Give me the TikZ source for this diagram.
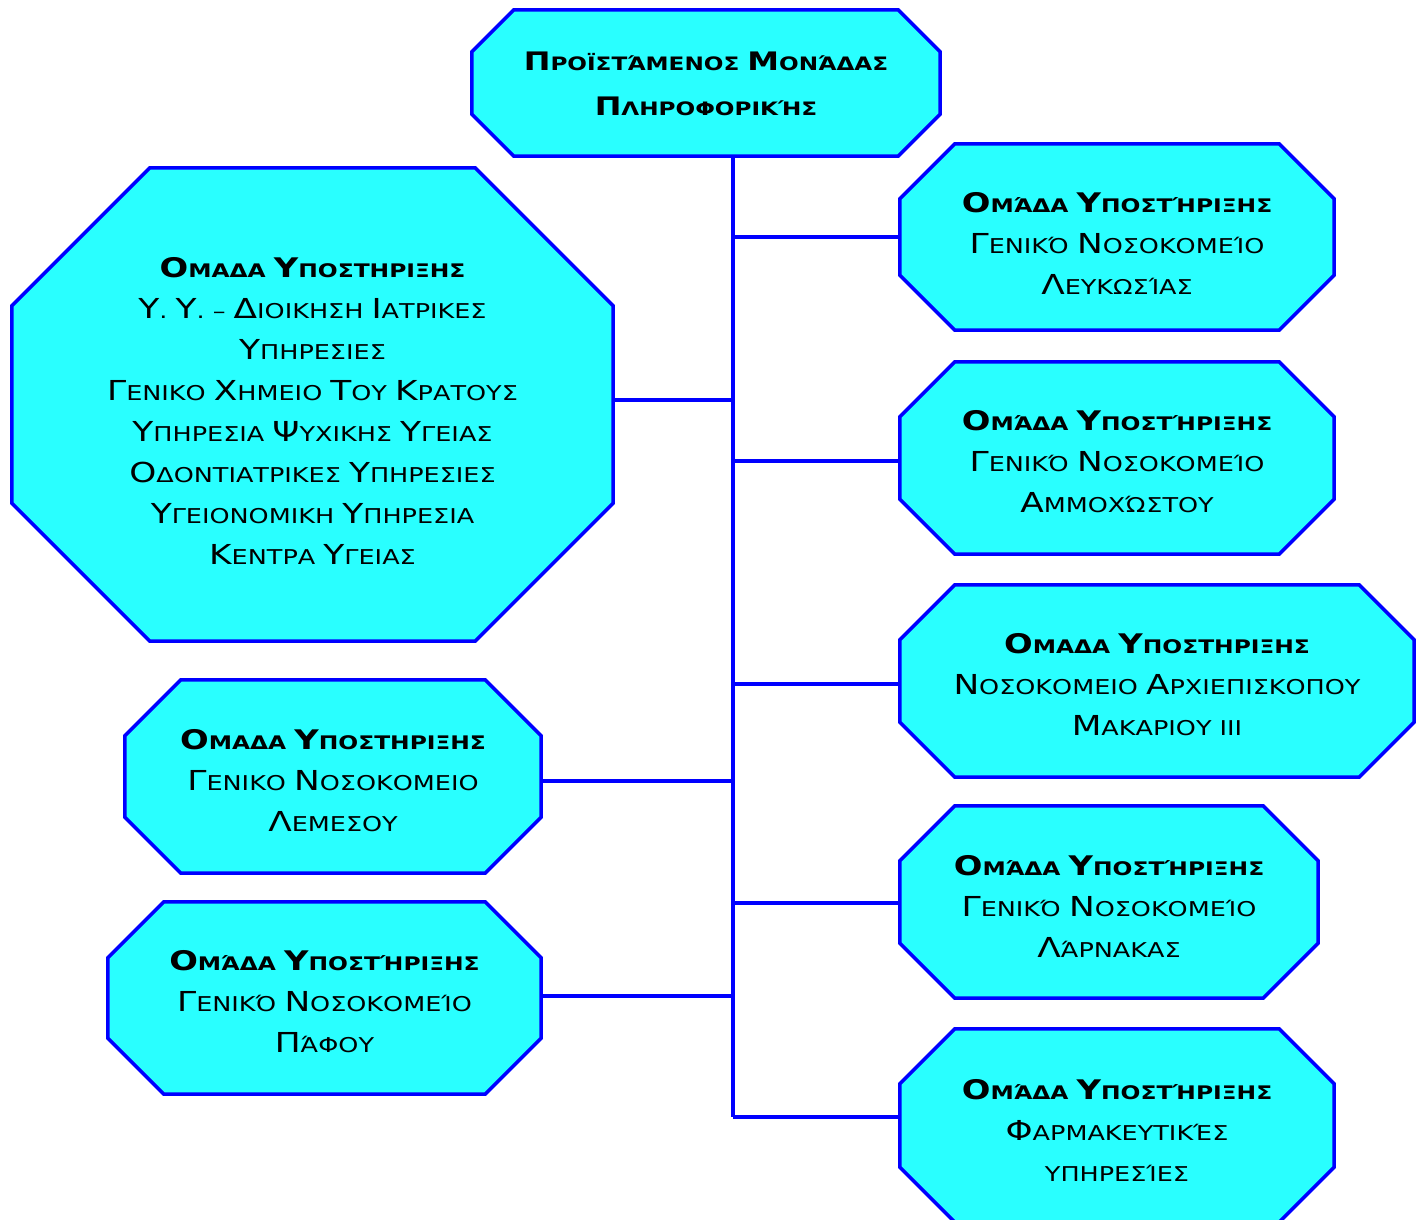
\documentclass[tikz,border=0pt]{standalone}
\usepackage{fontspec}
\setmainfont{DejaVu Sans}[FakeStretch=1.25]
\usetikzlibrary{backgrounds}
\definecolor{boxfill}{RGB}{41,255,255}
\definecolor{boxline}{RGB}{0,0,255}
\newcommand\Rc[1]{{\fontsize{27.5}{41}\selectfont #1}}
\newcommand\Bc[1]{{\fontsize{27}{41}\selectfont #1}}
\newcommand\Tc[1]{{\fontsize{25.5}{45}\selectfont #1}}
\newcommand\Bl{\bfseries\fontsize{18.7}{41}\selectfont}
\newcommand\octo[2]{%
  \path[oct] ([xshift=#2]#1.north west) -- ([xshift=-#2]#1.north east) -- ([yshift=-#2]#1.north east)
    -- ([yshift=#2]#1.south east) -- ([xshift=-#2]#1.south east) -- ([xshift=#2]#1.south west)
    -- ([yshift=#2]#1.south west) -- ([yshift=-#2]#1.north west) -- cycle;}
\tikzset{
  box/.style={inner sep=0pt, rectangle},
  lbl/.style={inner sep=0pt, align=center, font=\fontsize{20.4}{41}\selectfont},
  oct/.style={fill=boxfill, draw=boxline, line width=3.5pt, line join=miter},
  link/.style={draw=boxline, line width=3.5pt}
}
\begin{document}
\begin{tikzpicture}[x=1pt,y=-1pt]
\useasboundingbox (0,0) rectangle (1421,1220);
% boxes
\node[box, minimum width=468pt, minimum height=146pt] (top) at (706,83) {};
\node[box, minimum width=601pt, minimum height=473pt] (lbig) at (312.5,404.5) {};
\node[box, minimum width=416pt, minimum height=193pt] (lem) at (333,776.5) {};
\node[box, minimum width=433pt, minimum height=192pt] (paf) at (324.5,998) {};
\node[box, minimum width=434pt, minimum height=186pt] (lef) at (1117,237) {};
\node[box, minimum width=434pt, minimum height=192pt] (amm) at (1117,458) {};
\node[box, minimum width=514pt, minimum height=192pt] (mak) at (1157,681) {};
\node[box, minimum width=418pt, minimum height=192pt] (lar) at (1109,902) {};
\node[box, minimum width=434pt, minimum height=193pt] (far) at (1117,1125.5) {};
% texts
\node[lbl, font=\bfseries\fontsize{18.5}{45}\selectfont] (toptxt) at ([yshift=-1pt]top.center)
  {\Tc{Π}ΡΟΪΣΤΆΜΕΝΟΣ \Tc{Μ}ΟΝΆΔΑΣ\\\Tc{Π}ΛΗΡΟΦΟΡΙΚΉΣ};
\node[lbl] (lbigtxt) at ([yshift=-6pt]lbig.center)
  {{\Bl\Bc{Ο}ΜΑΔΑ \Bc{Υ}ΠΟΣΤΗΡΙΞΗΣ}\\
   \Rc{Υ}. \Rc{Υ}. – \Rc{Δ}ΙΟΙΚΗΣΗ \Rc{Ι}ΑΤΡΙΚΕΣ\\
   \Rc{Υ}ΠΗΡΕΣΙΕΣ\\
   \Rc{Γ}ΕΝΙΚΟ \Rc{Χ}ΗΜΕΙΟ \Rc{Τ}ΟΥ \Rc{Κ}ΡΑΤΟΥΣ\\
   \Rc{Υ}ΠΗΡΕΣΙΑ \Rc{Ψ}ΥΧΙΚΗΣ \Rc{Υ}ΓΕΙΑΣ\\
   \Rc{Ο}ΔΟΝΤΙΑΤΡΙΚΕΣ \Rc{Υ}ΠΗΡΕΣΙΕΣ\\
   \Rc{Υ}ΓΕΙΟΝΟΜΙΚΗ \Rc{Υ}ΠΗΡΕΣΙΑ\\
   \Rc{Κ}ΕΝΤΡΑ \Rc{Υ}ΓΕΙΑΣ};
\node[lbl] (lemtxt) at ([yshift=-4pt]lem.center)
  {{\Bl\Bc{Ο}ΜΑΔΑ \Bc{Υ}ΠΟΣΤΗΡΙΞΗΣ}\\\Rc{Γ}ΕΝΙΚΟ \Rc{Ν}ΟΣΟΚΟΜΕΙΟ\\\Rc{Λ}ΕΜΕΣΟΥ};
\node[lbl] (paftxt) at ([yshift=-4pt]paf.center)
  {{\Bl\Bc{Ο}ΜΆΔΑ \Bc{Υ}ΠΟΣΤΉΡΙΞΗΣ}\\\Rc{Γ}ΕΝΙΚΌ \Rc{Ν}ΟΣΟΚΟΜΕΊΟ\\\Rc{Π}ΆΦΟΥ};
\node[lbl] (leftxt) at ([yshift=-6pt]lef.center)
  {{\Bl\Bc{Ο}ΜΆΔΑ \Bc{Υ}ΠΟΣΤΉΡΙΞΗΣ}\\\Rc{Γ}ΕΝΙΚΌ \Rc{Ν}ΟΣΟΚΟΜΕΊΟ\\\Rc{Λ}ΕΥΚΩΣΊΑΣ};
\node[lbl] (ammtxt) at ([yshift=-4pt]amm.center)
  {{\Bl\Bc{Ο}ΜΆΔΑ \Bc{Υ}ΠΟΣΤΉΡΙΞΗΣ}\\\Rc{Γ}ΕΝΙΚΌ \Rc{Ν}ΟΣΟΚΟΜΕΊΟ\\\Rc{Α}ΜΜΟΧΏΣΤΟΥ};
\node[lbl] (maktxt) at ([yshift=-4pt]mak.center)
  {{\Bl\Bc{Ο}ΜΑΔΑ \Bc{Υ}ΠΟΣΤΗΡΙΞΗΣ}\\\Rc{Ν}ΟΣΟΚΟΜΕΙΟ \Rc{Α}ΡΧΙΕΠΙΣΚΟΠΟΥ\\\Rc{Μ}ΑΚΑΡΙΟΥ III};
\node[lbl] (lartxt) at ([yshift=-4pt]lar.center)
  {{\Bl\Bc{Ο}ΜΆΔΑ \Bc{Υ}ΠΟΣΤΉΡΙΞΗΣ}\\\Rc{Γ}ΕΝΙΚΌ \Rc{Ν}ΟΣΟΚΟΜΕΊΟ\\\Rc{Λ}ΆΡΝΑΚΑΣ};
\node[lbl] (fartxt) at ([yshift=-5pt]far.center)
  {{\Bl\Bc{Ο}ΜΆΔΑ \Bc{Υ}ΠΟΣΤΉΡΙΞΗΣ}\\\Rc{Φ}ΑΡΜΑΚΕΥΤΙΚΈΣ\\ΥΠΗΡΕΣΊΕΣ};
% junctions
\coordinate (ttop) at ([xshift=27pt]top.south);
\coordinate (tbot) at (733,1117);
\coordinate (j1) at (733,237);
\coordinate (j2) at (733,461);
\coordinate (j3) at (733,684);
\coordinate (j4) at (733,903);
\coordinate (j5) at (733,1117);
\coordinate (k1) at (733,400);
\coordinate (k2) at (733,781);
\coordinate (k3) at (733,996);
\begin{scope}[on background layer]
  \draw[link] (ttop) -- (tbot);
  \draw[link] (j1) -- (j1 -| lef.west);
  \draw[link] (j2) -- (j2 -| amm.west);
  \draw[link] (j3) -- (j3 -| mak.west);
  \draw[link] (j4) -- (j4 -| lar.west);
  \draw[link] (j5) -- (j5 -| far.west);
  \draw[link] (k1) -- (k1 -| lbig.east);
  \draw[link] (k2) -- (k2 -| lem.east);
  \draw[link] (k3) -- (k3 -| paf.east);
  \octo{top}{42pt}
  \octo{lbig}{138pt}
  \octo{lem}{56pt}
  \octo{paf}{56pt}
  \octo{lef}{55pt}
  \octo{amm}{55pt}
  \octo{mak}{55pt}
  \octo{lar}{55pt}
  \octo{far}{55pt}
\end{scope}
\end{tikzpicture}
\end{document}
